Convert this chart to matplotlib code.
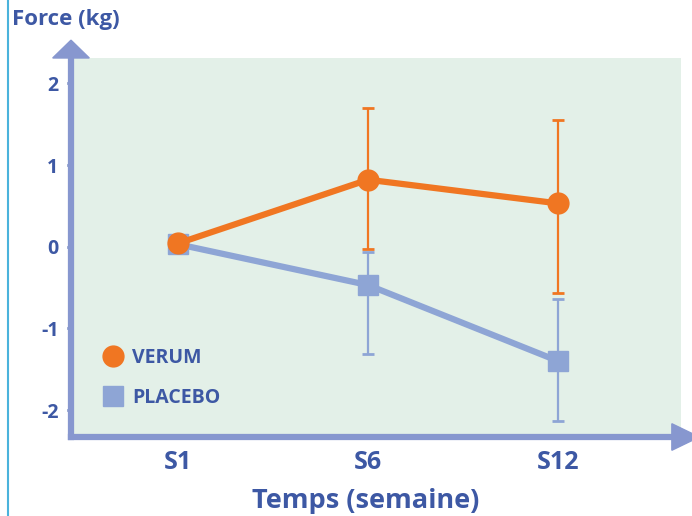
import numpy as np
import matplotlib.pyplot as plt
from matplotlib.patches import Polygon
from matplotlib.lines import Line2D

plt.rcParams['font.family'] = ['Open Sans', 'DejaVu Sans']
plt.rcParams['font.weight'] = 'bold'

# data
semaines = ['S1', 'S6', 'S12']
verum = [0.04, 0.82, 0.53]
verum_haut = [0.04, 1.70, 1.55]
verum_bas = [0.04, -0.03, -0.57]
placebo = [0.03, -0.47, -1.40]
placebo_haut = [0.03, -0.06, -0.64]
placebo_bas = [0.03, -1.31, -2.13]

ORANGE = '#f07622'
BLEU = '#8ea5d5'
AXE = '#8797cf'
TEXTE = '#3d58a4'
FOND = '#e3f0e8'

fig = plt.figure(figsize=(6.92, 5.16), dpi=100)
ax = fig.add_axes([0.1026, 0.1531, 0.8815, 0.7345])
ax.set_facecolor(FOND)

x = np.arange(len(semaines))
p = np.array(placebo)
v = np.array(verum)
ax.errorbar(x[1:], p[1:], yerr=[p[1:] - np.array(placebo_bas[1:]), np.array(placebo_haut[1:]) - p[1:]],
            fmt='none', ecolor=BLEU, elinewidth=1.6, capsize=4.5, capthick=2, zorder=2)
ax.plot(x, p, color=BLEU, lw=4.5, marker='s', ms=15, zorder=3, label='PLACEBO')
ax.errorbar(x[1:], v[1:], yerr=[v[1:] - np.array(verum_bas[1:]), np.array(verum_haut[1:]) - v[1:]],
            fmt='none', ecolor=ORANGE, elinewidth=1.6, capsize=4.5, capthick=2, zorder=4)
ax.plot(x, v, color=ORANGE, lw=4.5, marker='o', ms=15, zorder=5, label='VERUM')

ax.set_xlim(-0.563, 2.647)
ax.set_ylim(-2.33, 2.31)
ax.set_xticks(x)
ax.set_xticklabels(semaines)
ax.set_yticks([-2, -1, 0, 1, 2])
ax.set_yticklabels(['-2', '-1', '0', '1', '2'])

for s in ['top', 'right']:
    ax.spines[s].set_visible(False)
for s in ['left', 'bottom']:
    ax.spines[s].set_color(AXE)
    ax.spines[s].set_linewidth(4.5)
ax.tick_params(axis='y', colors=TEXTE, length=3, width=2, pad=6, labelsize=14)
ax.tick_params(axis='x', length=0, pad=9, labelsize=18, colors=TEXTE)

# arrow heads
ax.add_patch(Polygon([[-0.03, 1.0], [0.03, 1.0], [0.0, 1.047]], closed=True,
                     transform=ax.transAxes, color=AXE, clip_on=False))
ax.add_patch(Polygon([[0.985, -0.035], [0.985, 0.035], [1.03, 0.0]], closed=True,
                     transform=ax.transAxes, color=AXE, clip_on=False))

handles = [Line2D([], [], ls='none', marker='o', ms=15, color=ORANGE),
           Line2D([], [], ls='none', marker='s', ms=15, color=BLEU)]
ax.legend(handles, ['VERUM', 'PLACEBO'], loc='lower left', bbox_to_anchor=(0.008, 0.03),
          frameon=False, handletextpad=0.0, labelspacing=1.05, prop={'size': 14, 'weight': 'bold'},
          labelcolor=TEXTE)

fig.text(0.017, 0.962, 'Force (kg)', color=TEXTE, fontsize=16, va='center', ha='left')
fig.text(0.528, 0.03, 'Temps (semaine)', color=TEXTE, fontsize=19.5, va='center', ha='center')
fig.add_artist(Line2D([0.012, 0.012], [0, 1], transform=fig.transFigure, color='#4bb3dc', lw=1.5))

fig.savefig('out.png', dpi=100)
